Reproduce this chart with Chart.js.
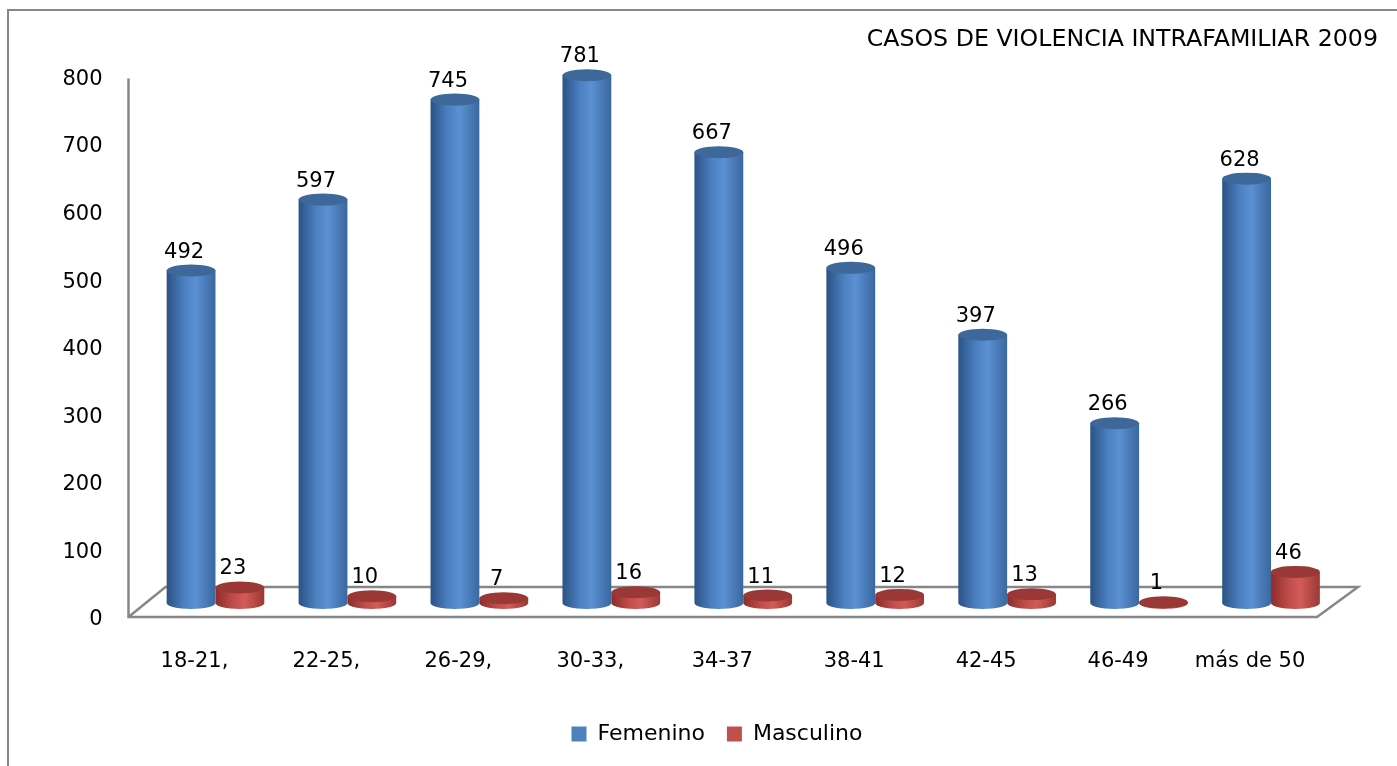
<!DOCTYPE html>
<html>
<head>
<meta charset="utf-8">
<script src="https://cdn.jsdelivr.net/npm/chart.js@4.4.1/dist/chart.umd.min.js"></script>
<style>
  html, body { margin: 0; padding: 0; background: #fff; overflow: hidden; }
  #wrap { position: relative; width: 1397px; height: 766px; }
  #frame { position: absolute; left: 7px; top: 9px; right: -10px; bottom: -10px;
           border-left: 2px solid #878787; border-top: 2px solid #878787; }
  canvas { position: absolute; left: 0; top: 0; }
</style>
</head>
<body>
<div id="wrap">
  <div id="frame"></div>
  <canvas id="chart" width="1397" height="766"></canvas>
</div>
<script>
const categories = ['18-21,', '22-25,', '26-29,', '30-33,', '34-37', '38-41', '42-45', '46-49', 'más de 50'];
const femenino = [492, 597, 745, 781, 667, 496, 397, 266, 628];
const masculino = [23, 10, 7, 16, 11, 12, 13, 1, 46];
const seriesNames = ['Femenino', 'Masculino'];
const yMin = 0, yMax = 800, yStep = 100;
const title = 'CASOS DE VIOLENCIA INTRAFAMILIAR 2009';

const FONT = 'DejaVu Sans';
const CAT_PCT = 0.74;

// colours: [left edge, light middle, right edge], top cap, legend
const palette = [
  { stops: ['#2b5284', '#4a7fc0', '#5b90d2', '#3a679f'], cap: '#3d6899', flat: '#4f81bd' },
  { stops: ['#8a2d2b', '#bf4b48', '#d25b58', '#9b3835'], cap: '#9a3836', flat: '#c0504d' }
];

function cylinderFill(ds) {
  return (ctx) => {
    const chart = ctx.chart;
    const xs = chart.scales.x;
    if (!xs || !chart.chartArea || ctx.dataIndex === undefined) return palette[ds].flat;
    const slot = xs.width / categories.length * CAT_PCT / 2;
    const cx = xs.getPixelForValue(ctx.dataIndex) + (ds === 0 ? -slot / 2 : slot / 2);
    const g = chart.ctx.createLinearGradient(cx - slot / 2, 0, cx + slot / 2, 0);
    const s = palette[ds].stops;
    g.addColorStop(0, s[0]);
    g.addColorStop(0.35, s[1]);
    g.addColorStop(0.6, s[2]);
    g.addColorStop(1, s[3]);
    return g;
  };
}

// floor, back wall edge and value axis line drawn around the plot
const floorPlugin = {
  id: 'floor',
  beforeDatasetsDraw(chart) {
    const { ctx, chartArea } = chart;
    const y = chart.scales.y;
    const zero = y.getPixelForValue(0);
    const front = zero + 14, back = zero - 16;
    const l = chartArea.left - 21, r = chartArea.right - 20;
    ctx.save();
    ctx.strokeStyle = '#878787';
    ctx.lineWidth = 2.5;
    ctx.beginPath();
    ctx.moveTo(l, y.getPixelForValue(yMax) + 16);
    ctx.lineTo(l, front);
    ctx.lineTo(r, front);
    ctx.lineTo(r + 41, back);
    ctx.lineTo(l + 37, back);
    ctx.lineTo(l, front);
    ctx.stroke();
    ctx.restore();
  }
};

// rounded bottom and elliptical top of each column, plus value labels
const cylinderPlugin = {
  id: 'cylinders',
  afterDatasetsDraw(chart) {
    const ctx = chart.ctx;
    chart.data.datasets.forEach((d, di) => {
      const meta = chart.getDatasetMeta(di);
      meta.data.forEach((el, i) => {
        const { x, y, base, width } = el.getProps(['x', 'y', 'base', 'width'], true);
        const rx = width / 2, ry = 6;
        ctx.save();
        ctx.fillStyle = el.options.backgroundColor;
        ctx.beginPath();
        ctx.ellipse(x, base, rx, ry, 0, 0, Math.PI);
        ctx.fill();
        ctx.fillStyle = palette[di].cap;
        ctx.beginPath();
        ctx.ellipse(x, y, rx, ry, 0, 0, Math.PI * 2);
        ctx.fill();
        ctx.restore();
      });
    });
    ctx.save();
    ctx.font = '21px "' + FONT + '"';
    ctx.fillStyle = '#000';
    ctx.textAlign = 'center';
    ctx.textBaseline = 'alphabetic';
    chart.data.datasets.forEach((d, di) => {
      chart.getDatasetMeta(di).data.forEach((el, i) => {
        ctx.fillText(String(d.data[i]), el.x - 7, el.y - 13);
      });
    });
    ctx.restore();
  }
};

new Chart(document.getElementById('chart'), {
  type: 'bar',
  data: {
    labels: categories,
    datasets: [
      { label: seriesNames[0], data: femenino, backgroundColor: cylinderFill(0), borderWidth: 0 },
      { label: seriesNames[1], data: masculino, backgroundColor: cylinderFill(1), borderWidth: 0 }
    ]
  },
  options: {
    responsive: false,
    animation: false,
    datasets: { bar: { categoryPercentage: CAT_PCT, barPercentage: 1.0 } },
    layout: { padding: { left: 56, right: 19, top: 0, bottom: 11 } },
    scales: {
      x: {
        grid: { display: false, drawTicks: false },
        border: { display: false },
        ticks: { color: '#000', font: { family: FONT, size: 21 }, padding: 46, labelOffset: -21 },
        afterFit(s) { s.height = 98; }
      },
      y: {
        min: yMin, max: yMax,
        grid: { display: false, drawTicks: false },
        border: { display: false },
        ticks: { stepSize: yStep, color: '#000', font: { family: FONT, size: 21 }, padding: 47, labelOffset: 17 },
        afterFit(s) { s.width = 93.5; }
      },
      y2: {
        position: 'right',
        display: true,
        grid: { display: false, drawTicks: false },
        border: { display: false },
        ticks: { display: false },
        afterFit(s) { s.width = 41; }
      }
    },
    plugins: {
      title: {
        display: true, text: title, align: 'end', color: '#000',
        font: { family: FONT, size: 23.7, weight: 'normal' },
        padding: { top: 26, bottom: 8 }
      },
      legend: {
        position: 'bottom',
        labels: {
          color: '#000', font: { family: FONT, size: 22 },
          boxWidth: 15, boxHeight: 15, padding: 22,
          generateLabels(chart) {
            return chart.data.datasets.map((d, i) => ({
              text: d.label, fillStyle: palette[i].flat, strokeStyle: palette[i].flat,
              lineWidth: 0, datasetIndex: i, hidden: false
            }));
          }
        }
      },
      tooltip: { enabled: false }
    }
  },
  plugins: [floorPlugin, cylinderPlugin]
});
</script>
</body>
</html>
